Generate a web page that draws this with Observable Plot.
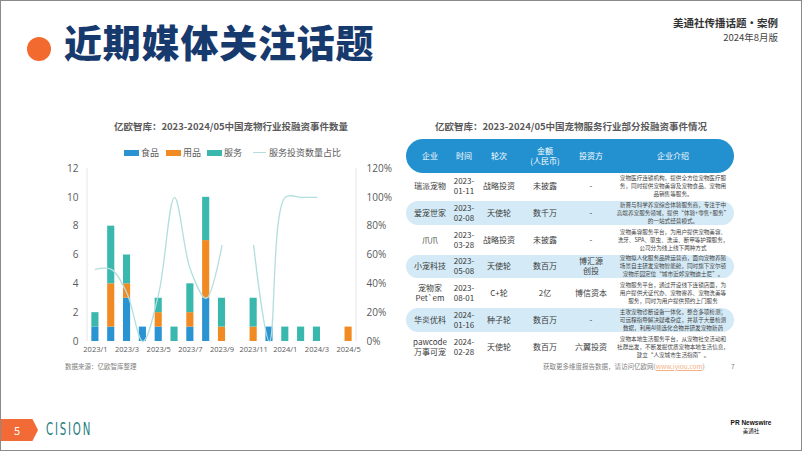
<!DOCTYPE html>
<html><head><meta charset="utf-8">
<script src="https://cdn.jsdelivr.net/npm/d3@7"></script>
<script src="https://cdn.jsdelivr.net/npm/@observablehq/plot@0.6"></script>
<style>
html,body{margin:0;padding:0;background:#fff;}
#slide{position:relative;width:802px;height:451px;overflow:hidden;box-sizing:border-box;border:1px solid #8a8a8a;font-family:"Noto Sans CJK SC","Noto Sans",sans-serif;background:#fff;}
.abs{position:absolute;}
.cell{position:absolute;display:flex;align-items:center;justify-content:center;text-align:center;white-space:pre-line;color:#3a3a3a;font-size:8px;line-height:10px;}
.intro{font-size:5.6px;line-height:8px;color:#444;}
.hdr{color:#fff;font-size:8px;line-height:10px;}
.leg{position:absolute;top:145px;font-size:9px;color:#595959;display:flex;align-items:center;white-space:nowrap;}
.sw{display:inline-block;width:15px;height:6px;margin-right:2px;}
</style></head><body>
<div id="slide">
  <div class="abs" style="left:26px;top:36px;width:24px;height:24px;border-radius:50%;background:#f26a2e;"></div>
  <div class="abs" style="left:63px;top:16px;font-size:38px;line-height:48px;font-weight:900;color:#173a6e;letter-spacing:0.8px;">近期媒体关注话题</div>
  <div class="abs" style="right:23px;top:14px;font-size:10.5px;font-weight:700;color:#333;">美通社传播话题・案例</div>
  <div class="abs" style="right:23px;top:29px;font-size:9.5px;color:#444;">2024年8月版</div>

  <div class="abs" style="left:60px;top:118px;width:340px;text-align:center;font-size:9.5px;font-weight:700;color:#5a5a5a;" id="ctitle"></div>
  <div id="legend"></div>
  <div id="chart" class="abs" style="left:59px;top:160px;"></div>
  <div class="abs" style="left:64px;top:360px;font-size:6.5px;color:#7f7f7f;" id="src"></div>

  <div class="abs" style="left:405px;top:118px;width:330px;text-align:center;font-size:9.5px;font-weight:700;color:#5a5a5a;" id="ttitle"></div>
  <div id="table"></div>
  <div class="abs" style="left:542px;top:360px;font-size:6.5px;color:#7f7f7f;white-space:nowrap;">获取更多维度报告数据，请访问亿欧网(<span style="color:#f4b183;text-decoration:underline;">www.iyiou.com</span>)</div>
  <div class="abs" style="left:730px;top:360px;font-size:6.5px;color:#7f7f7f;">7</div>

  <div class="abs" style="left:0;top:418px;width:37px;height:22px;background:#f26a35;clip-path:polygon(0 0,85% 0,100% 50%,85% 100%,0 100%);color:#fff;font-size:11px;line-height:22px;text-indent:13px;">5</div>
  <div class="abs" style="left:45px;top:417px;font-family:'DejaVu Sans',sans-serif;font-size:17px;line-height:22px;font-weight:400;letter-spacing:3px;color:#1f7d7e;transform:scaleX(0.6);transform-origin:left center;">CISION</div>
  <div class="abs" style="left:720px;top:418px;width:60px;text-align:center;font-family:'Liberation Sans',sans-serif;font-size:6.5px;font-weight:700;color:#111;line-height:8px;">PR Newswire<br><span style="font-family:'Noto Sans CJK SC';font-weight:400;font-size:5.5px;">美通社</span></div>
</div>
<script>
// ---------- chart data ----------
const chartTitle = "亿欧智库：2023-2024/05中国宠物行业投融资事件数量";
const sourceNote = "数据来源：亿欧智库整理";
const months = ["2023/1","2023/2","2023/3","2023/4","2023/5","2023/6","2023/7","2023/8","2023/9","2023/10","2023/11","2023/12","2024/1","2024/2","2024/3","2024/4","2024/5"];
const categories = ["食品","用品","服务"];
const catColors = ["#2a93d1","#f28a24","#3bb8ad"];
const food    = [1,1,3,1,1,0,1,3,0,0,0,1,0,0,0,0,0];
const goods   = [0,3,1,0,1,0,1,4,1,0,1,0,0,0,0,0,1];
const service = [1,4,2,0,1,1,2,3,2,0,2,0,1,1,1,0,0];
const lineName = "服务投资数量占比";
const serviceShare = [0.5,0.5,0.333,0,0.333,1,0.5,0.3,0.667,null,0.667,0,1,1,1,null,null];
const yTicks = [0,2,4,6,8,10,12];
const xTickLabels = ["2023/1","2023/3","2023/5","2023/7","2023/9","2023/11","2024/1","2024/3","2024/5"];

// ---------- table data ----------
const tableTitle = "亿欧智库：2023-2024/05中国宠物服务行业部分投融资事件情况";
const headers = ["企业","时间","轮次","金额\n(人民币)","投资方","企业介绍"];
const companies = ["瑞派宠物","爱宠世家","爪爪","小宠科技","宠物家\nPet`em","华炎优科","pawcode\n万事可宠"];
const dates = ["2023-\n01-11","2023-\n02-08","2023-\n03-28","2023-\n05-08","2023-\n08-01","2024-\n01-16","2024-\n02-28"];
const rounds = ["战略投资","天使轮","战略投资","天使轮","C+轮","种子轮","天使轮"];
const amounts = ["未披露","数千万","未披露","数百万","2亿","数百万","数百万"];
const investors = ["-","-","-","博汇源\n创投","博信资本","-","六翼投资"];
const intros = [
  "宠物医疗连锁机构，提供全方位宠物医疗服\n务，同时提供宠物美容及宠物食品、宠物用\n品销售等服务。",
  "新晋与科学养宠综合体验服务商，专注于中\n高端养宠服务领域，提供“体验+零售+服务”\n的一站式经营模式。",
  "宠物美容服务平台，为用户提供宠物美容、\n洗牙、SPA、驱虫、洗澡、断甲等护理服务，\n公司分为线上线下两种方式",
  "宠物拟人化服务品牌运营商，面向宠物养殖\n场景自主研发宠物智能舱，同时旗下宠尔顿\n宠物乐园定位“城市近郊宠物迪士尼”。",
  "宠物服务平台，通过开设线下连锁店面，为\n用户提供犬证代办、宠物寄养、宠物洗美等\n服务，同时为用户提供预约上门服务",
  "主攻宠物诊断设备一体化，整合多项检测；\n可远程指导解决疑难杂症，并基于大量检测\n数据，利用AI筛选化合物并研发宠物新药",
  "宠物本地生活服务平台，从宠物社交活动和\n社群出发，不断发掘优质宠物本地生活信息，\n建立“人宠城市生活指南”。"
];

document.getElementById("ctitle").textContent = chartTitle;
document.getElementById("src").textContent = sourceNote;
document.getElementById("ttitle").textContent = tableTitle;

// legend
const legend = document.getElementById("legend");
const legItems = [[categories[0],catColors[0],123],[categories[1],catColors[1],165],[categories[2],catColors[2],206]];
legItems.forEach(([t,c,x])=>{
  const d = document.createElement("div"); d.className="leg"; d.style.left=x+"px";
  d.innerHTML = `<span class="sw" style="background:${c}"></span>${t}`;
  legend.appendChild(d);
});
{
  const d = document.createElement("div"); d.className="leg"; d.style.left="252px";
  d.innerHTML = `<span style="display:inline-block;width:13px;height:1.3px;background:#b2dfdd;margin-right:3px;"></span>${lineName}`;
  legend.appendChild(d);
}

// chart
const rows = [];
months.forEach((m,i)=>{
  [food,goods,service].forEach((arr,k)=>{ if (arr[i]>0) rows.push({month:m,cat:categories[k],value:arr[i]}); });
});
const lineData = months.map((m,i)=>({month:m, share: serviceShare[i]==null ? NaN : serviceShare[i]*10}));

const chart = Plot.plot({
  width:330, height:200, marginLeft:27, marginRight:34, marginTop:7, marginBottom:20,
  style:{fontFamily:"'Open Sans','Noto Sans CJK SC',sans-serif", color:"#595959", background:"transparent", overflow:"visible"},
  x:{type:"band", domain:months, paddingInner:0.55, paddingOuter:0.275, round:false},
  y:{domain:[0,12]},
  color:{domain:categories, range:catColors},
  marks:[
    Plot.barY(rows,{x:"month", y:"value", fill:"cat"}),
    Plot.line(lineData,{x:"month", y:"share", stroke:"#b2dfdd", strokeWidth:1.3, curve:"catmull-rom"}),
    Plot.axisY({anchor:"left", ticks:yTicks, tickSize:0, tickPadding:9, fontSize:10, label:null}),
    Plot.axisY({anchor:"right", ticks:yTicks, tickSize:0, tickPadding:10, fontSize:10, label:null, tickFormat:d=>(d*10)+"%"}),
    Plot.axisX({ticks:xTickLabels, tickSize:0, tickPadding:5, fontSize:7.5, label:null})
  ]
});
document.getElementById("chart").appendChild(chart);
{
  const xs = chart.scale("x").range, ys = chart.scale("y").range;
  const svg = d3.select(chart);
  [xs[0], xs[1]].forEach(x=>{
    svg.insert("line",":first-child").attr("x1",x).attr("x2",x).attr("y1",ys[0]).attr("y2",ys[1]).attr("stroke","#e6e6e6").attr("stroke-width",1);
  });
}

// table
const table = document.getElementById("table");
const colCenters = [429,463,498,544,590,672];
const colWidths = [44,30,40,40,40,124];
function cell(txt, cx, w, top, h, cls){
  const d = document.createElement("div"); d.className = "cell " + (cls||"");
  d.style.left = (cx - w/2) + "px"; d.style.width = w + "px";
  d.style.top = top + "px"; d.style.height = h + "px";
  d.textContent = txt; table.appendChild(d);
}
{
  const p = document.createElement("div"); p.className="abs";
  Object.assign(p.style,{left:"405px",top:"138px",width:"328px",height:"34px",borderRadius:"17px",background:"#2391d0"});
  table.appendChild(p);
  headers.forEach((h,j)=>cell(h,colCenters[j],colWidths[j],138,34,"hdr"));
}
const rowTop = 172, rowH = 26.7;
companies.forEach((c,i)=>{
  const top = rowTop + i*rowH;
  if (i % 2 === 1) {
    const p = document.createElement("div"); p.className="abs";
    Object.assign(p.style,{left:"405px",top:(top+1.5)+"px",width:"328px",height:(rowH-3)+"px",borderRadius:"12px",background:"#d4eaf6"});
    table.appendChild(p);
  }
  const vals = [c, dates[i], rounds[i], amounts[i], investors[i]];
  vals.forEach((v,j)=>cell(v,colCenters[j],colWidths[j],top,rowH));
  cell(intros[i],colCenters[5],colWidths[5],top,rowH,"intro");
});
</script>
</body></html>
